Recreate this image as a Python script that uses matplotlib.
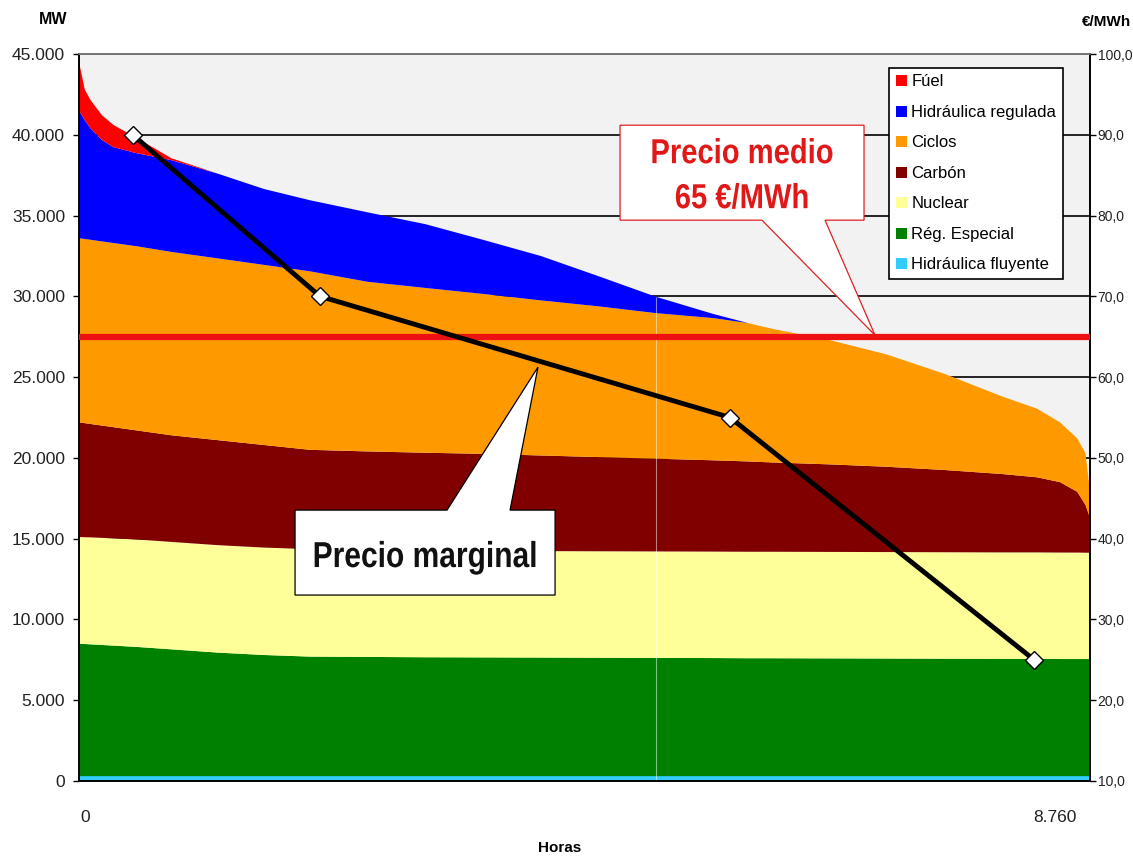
import matplotlib
matplotlib.use("Agg")
import matplotlib.pyplot as plt
import numpy as np
from matplotlib.patches import Polygon, Patch
from matplotlib.transforms import ScaledTranslation, Affine2D
from matplotlib.patheffects import AbstractPathEffect

# ---------------- data ----------------
hours = [0, 50, 100, 200, 300, 500, 800, 1200, 1600, 2000, 2500, 3000, 3500, 4000,
         4500, 5000, 5500, 5800, 6000, 6500, 7000, 7500, 8000, 8300, 8500, 8650, 8720, 8760]

hidraulica_fluyente = [300] * 28
reg_especial = [8200, 8180, 8160, 8120, 8080, 8000, 7850, 7650, 7500, 7400, 7380, 7360, 7350, 7340,
                7330, 7320, 7310, 7300, 7300, 7290, 7280, 7270, 7260, 7260, 7250, 7250, 7250, 7250]
nuclear = [6600, 6610, 6620, 6630, 6640, 6650, 6650, 6650, 6650, 6650, 6620, 6610, 6600, 6590,
           6590, 6590, 6590, 6590, 6590, 6590, 6590, 6590, 6590, 6590, 6590, 6590, 6580, 6580]
carbon = [7100, 7060, 7020, 6950, 6880, 6750, 6600, 6500, 6350, 6150, 6100, 6050, 6000, 5920,
          5830, 5740, 5650, 5590, 5530, 5420, 5280, 5090, 4850, 4650, 4360, 3760, 2970, 2170]
ciclos = [11400, 11400, 11400, 11400, 11400, 11400, 11350, 11250, 11150, 11050, 10500, 10200, 9900, 9600,
          9330, 9010, 8800, 8560, 8280, 7700, 6950, 5950, 4800, 4250, 3700, 3300, 3200, 1700]
hidraulica_regulada = [7900, 7350, 6900, 6270, 5930, 5760, 5680, 5250, 4700, 4400, 4300, 3950, 3350, 2750,
                       1870, 1010, 250, 0, 0, 0, 0, 0, 0, 0, 0, 0, 0, 0]
fuel = [3000, 1900, 1750, 1530, 1370, 940, 120, 0, 0, 0, 0, 0, 0, 0,
        0, 0, 0, 0, 0, 0, 0, 0, 0, 0, 0, 0, 0, 0]

tech_names = ["Hidráulica fluyente", "Rég. Especial", "Nuclear", "Carbón", "Ciclos",
              "Hidráulica regulada", "Fúel"]
tech_colors = ["#33ccff", "#008000", "#ffff99", "#800000", "#ff9900", "#0000ff", "#ff0000"]

price_hours = [465, 2088, 5641, 8276]
price_values = [90, 70, 55, 25]
precio_medio = 65

left_ticks = [0, 5000, 10000, 15000, 20000, 25000, 30000, 35000, 40000, 45000]
left_labels = ["0", "5.000", "10.000", "15.000", "20.000", "25.000", "30.000", "35.000", "40.000", "45.000"]
right_ticks = [10, 20, 30, 40, 50, 60, 70, 80, 90, 100]
right_labels = ["10,0", "20,0", "30,0", "40,0", "50,0", "60,0", "70,0", "80,0", "90,0", "100,0"]
x_ticks = [0, 8760]
x_labels = ["0", "8.760"]

plt.rcParams['font.family'] = ['Liberation Sans', 'DejaVu Sans']


class HStretch(AbstractPathEffect):
    """Draw text narrower horizontally (condensed look), around its own centre."""
    def __init__(self, sx):
        super().__init__()
        self.sx = sx

    def draw_path(self, renderer, gc, tpath, affine, rgbFace=None):
        ext = tpath.get_extents(affine)
        cx = 0.5 * (ext.x0 + ext.x1)
        aff = affine + Affine2D().translate(-cx, 0).scale(self.sx, 1.0).translate(cx, 0)
        renderer.draw_path(gc, tpath, aff, rgbFace)


# ---------------- figure ----------------
W, H = 1133, 859
fig = plt.figure(figsize=(W / 100, H / 100), dpi=100)
ax = fig.add_axes([79 / W, 1 - 781 / H, 1011 / W, 727 / H])
ax.set_facecolor('#f2f2f2')

stack_vals = [hidraulica_fluyente, reg_especial, nuclear, carbon, ciclos, hidraulica_regulada, fuel]
ax.stackplot(hours, *stack_vals, colors=tech_colors, linewidth=0, zorder=2)

ax.set_xlim(0, 8760)
ax.set_ylim(0, 45000)
ax.set_axisbelow(True)
ax.yaxis.grid(True, color='black', lw=1.2, zorder=0.5)

# faint seam visible through the coloured areas at mid-year
seam_idx = hours.index(5000)
seam_top = sum(v[seam_idx] for v in stack_vals)
ax.vlines(5000, 0, seam_top, color='white', lw=0.8, alpha=0.5, zorder=3)

ax.set_yticks(left_ticks)
ax.set_yticklabels(left_labels)
ax.tick_params(axis='y', direction='out', length=4.5, width=1, pad=5.5, labelsize=12.5,
               colors='black', labelcolor='#222222')
ax.set_xticks(x_ticks)
ax.set_xticklabels(x_labels)
ax.tick_params(axis='x', length=0, pad=21, labelsize=12.5, labelcolor='#222222')
xl = ax.get_xticklabels()
xl[0].set_transform(xl[0].get_transform() + ScaledTranslation(6 / 100, 0, fig.dpi_scale_trans))
xl[1].set_transform(xl[1].get_transform() + ScaledTranslation(-35 / 100, 0, fig.dpi_scale_trans))
for s in ax.spines.values():
    s.set_color('black')
    s.set_linewidth(1.2)

# ---------------- price axis ----------------
ax2 = ax.twinx()
ax2.set_ylim(10, 100)
ax2.set_yticks(right_ticks)
ax2.set_yticklabels(right_labels)
ax2.tick_params(axis='y', direction='out', length=4, width=1, pad=1.5, labelsize=10,
                labelcolor='#222222')
for s in ax2.spines.values():
    s.set_color('black')
    s.set_linewidth(1.2)
ax2.spines['top'].set_color('#777777')
ax.spines['top'].set_color('#777777')

ax2.axhline(precio_medio, color='#ee1111', lw=4.5, solid_capstyle='round', zorder=3)
ax2.plot(price_hours, price_values, color='black', lw=3.5, zorder=4,
         marker='D', markersize=9.5, markerfacecolor='white', markeredgecolor='black',
         markeredgewidth=1)

# callout: Precio medio
medio_poly = Polygon([(4688, 40593), (6802, 40593), (6802, 34715), (6464, 34715),
                      (6897, 27598), (5918, 34715), (4688, 34715)],
                     closed=True, facecolor='white', edgecolor='#dd2222', lw=0.9,
                     transform=ax.transData, zorder=5)
ax2.add_patch(medio_poly)
for txt, yv in (("Precio medio", 38242), ("65 €/MWh", 35457)):
    ax2.text(5745, yv, txt, transform=ax.transData, ha='center', va='baseline',
             color='#e01818', weight='bold', size=25, zorder=6,
             path_effects=[HStretch(0.84)])

# callout: Precio marginal
marg_poly = Polygon([(1872, 16769), (3189, 16769), (3977, 25618), (3735, 16769),
                     (4125, 16769), (4125, 11510), (1872, 11510)],
                    closed=True, facecolor='white', edgecolor='black', lw=0.9,
                    transform=ax.transData, zorder=5)
ax2.add_patch(marg_poly)
ax2.text(2998, 13243, "Precio marginal", transform=ax.transData, ha='center', va='baseline',
         color='#111111', weight='bold', size=26, zorder=6,
         path_effects=[HStretch(0.83)])

# legend
handles = [Patch(facecolor=c, edgecolor='none') for c in tech_colors][::-1]
labels = tech_names[::-1]
leg = ax2.legend(handles, labels, loc='upper right', bbox_to_anchor=(0.973, 0.981),
                 frameon=True, fancybox=False, edgecolor='black', framealpha=1,
                 prop={'size': 12},
                 handlelength=0.65, handleheight=0.65, handletextpad=0.25,
                 labelspacing=0.93, borderpad=0.4, borderaxespad=0)
leg.get_frame().set_linewidth(1.2)
leg.set_zorder(10)

# axis titles
fig.text(53 / W, 1 - 20 / H, "MW", ha='center', va='center', weight='bold', size=11.5)
fig.text(1131 / W, 1 - 22 / H, "€/MWh", ha='right', va='center', weight='bold', size=11)
fig.text(560 / W, 1 - 848 / H, "Horas", ha='center', va='center', weight='bold', size=11)

fig.savefig("out.png", dpi=100, facecolor='white')
